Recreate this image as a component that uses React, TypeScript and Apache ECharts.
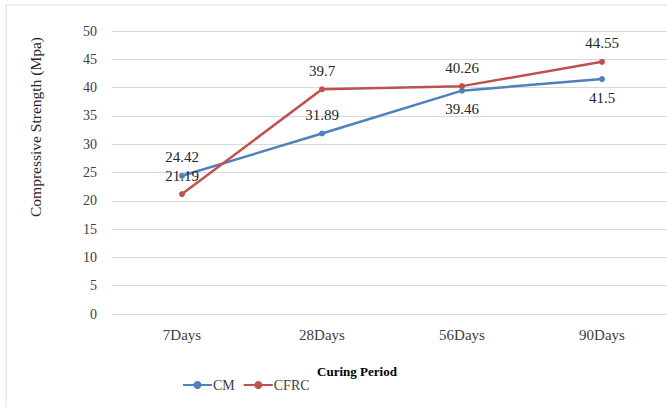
import React, { useEffect, useRef } from "react";
import * as echarts from "echarts";

const categories = ["7Days", "28Days", "56Days", "90Days"];
const cmValues = [24.42, 31.89, 39.46, 41.5];
const cfrcValues = [21.19, 39.7, 40.26, 44.55];
const cmLabelPos = ["top", "top", "bottom", "bottom"];
const yTicks = { min: 0, max: 50, interval: 5 };

const FONT = "'Liberation Serif', 'Times New Roman', serif";

export default function App() {
  const ref = useRef<HTMLDivElement>(null);
  useEffect(() => {
    if (!ref.current) return;
    const chart = echarts.init(ref.current, undefined, { renderer: "svg" });
    chart.setOption({
      animation: false,
      backgroundColor: "#ffffff",
      textStyle: { fontFamily: FONT },
      grid: { left: 112, right: 8, top: 31, bottom: 93, containLabel: false },
      graphic: [
        {
          type: "rect",
          shape: { x: 6, y: 5, width: 700, height: 420 },
          style: { fill: "none", stroke: "#d9d9d9", lineWidth: 1 },
          silent: true,
          z: -10,
        },
        {
          type: "text",
          x: 35,
          y: 127,
          rotation: Math.PI / 2,
          style: {
            text: "Compressive Strength (Mpa)",
            font: `15.5px ${FONT}`,
            fill: "#262626",
            align: "center",
            verticalAlign: "middle",
          },
        },
        {
          type: "text",
          x: 357,
          y: 371,
          style: {
            text: "Curing Period",
            font: `bold 13px ${FONT}`,
            fill: "#000000",
            align: "center",
            verticalAlign: "middle",
          },
        },
      ],
      legend: {
        left: 177,
        top: 373,
        itemWidth: 29,
        itemHeight: 10,
        itemGap: 8,
        textStyle: { fontFamily: FONT, fontSize: 14, color: "#404040", padding: [0, 0, 0, -4] },
        data: ["CM", "CFRC"],
      },
      xAxis: {
        type: "category",
        data: categories,
        boundaryGap: true,
        axisLine: { show: false },
        axisTick: { show: false },
        axisLabel: { fontFamily: FONT, fontSize: 15, color: "#404040", margin: 13 },
      },
      yAxis: {
        type: "value",
        min: yTicks.min,
        max: yTicks.max,
        interval: yTicks.interval,
        axisLine: { show: false },
        axisTick: { show: false },
        axisLabel: { fontFamily: FONT, fontSize: 14, color: "#404040", margin: 15 },
        splitLine: { lineStyle: { color: "#d9d9d9", width: 1 } },
      },
      series: [
        {
          name: "CM",
          type: "line",
          data: cmValues.map((v, i) => ({ value: v, label: { position: cmLabelPos[i] } })),
          symbol: "circle",
          symbolSize: 6,
          lineStyle: { color: "#4F81BD", width: 2.5 },
          itemStyle: { color: "#4F81BD" },
          label: { show: true, fontFamily: FONT, fontSize: 15, color: "#262626", distance: 8 },
        },
        {
          name: "CFRC",
          type: "line",
          data: cfrcValues,
          symbol: "circle",
          symbolSize: 6,
          lineStyle: { color: "#C0504D", width: 2.5 },
          itemStyle: { color: "#C0504D" },
          label: { show: true, position: "top", fontFamily: FONT, fontSize: 15, color: "#262626", distance: 8 },
        },
      ],
    });
    return () => chart.dispose();
  }, []);
  return (
    <div
      ref={ref}
      style={{ position: "fixed", left: 0, top: 0, width: 680, height: 407 }}
    />
  );
}
